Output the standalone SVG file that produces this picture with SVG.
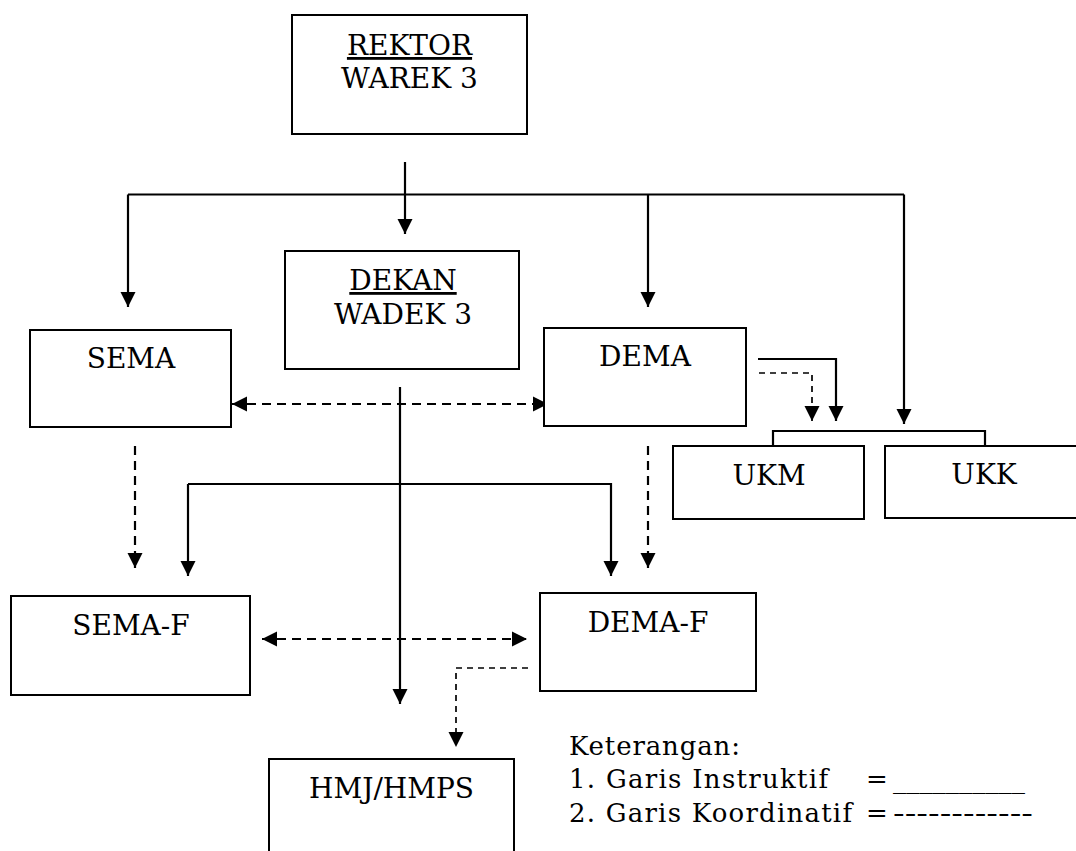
<svg xmlns="http://www.w3.org/2000/svg" width="1076" height="851" viewBox="0 0 1076 851">
  <style>
    .box { fill: #ffffff; stroke: #000000; stroke-width: 2; }
    .lbl { font-family: "DejaVu Serif", "Liberation Serif", serif; font-size: 28px; fill: #000000; text-anchor: middle; }
    .leg { font-family: "DejaVu Serif", "Liberation Serif", serif; font-size: 26px; fill: #000000; }
    .solid { fill: none; stroke: #000000; stroke-width: 2.2; }
    .dash { fill: none; stroke: #000000; stroke-width: 2.2; stroke-dasharray: 9 6; }
    .dash-thin { fill: none; stroke: #000000; stroke-width: 1.7; stroke-dasharray: 6 5; }
    .u { text-decoration: underline; }
  </style>
  <defs>
    <marker id="ah" markerUnits="userSpaceOnUse" markerWidth="16" markerHeight="16" viewBox="0 0 16 16" refX="15" refY="8" orient="auto">
      <path d="M0,0.5 L15,8 L0,15.5 z" fill="#000000"/>
    </marker>
    <marker id="ahs" markerUnits="userSpaceOnUse" markerWidth="16" markerHeight="16" viewBox="0 0 16 16" refX="15" refY="8" orient="auto-start-reverse">
      <path d="M0,0.5 L15,8 L0,15.5 z" fill="#000000"/>
    </marker>
  </defs>
  <rect width="1076" height="851" fill="#ffffff"/>

  <g id="connectors">
    <!-- instructive (solid) -->
    <path class="solid" d="M405,162 V234" marker-end="url(#ah)"/>
    <path class="solid" d="M128,194.5 H904"/>
    <path class="solid" d="M128,194.5 V307" marker-end="url(#ah)"/>
    <path class="solid" d="M648,194.5 V307" marker-end="url(#ah)"/>
    <path class="solid" d="M904,194.5 V424" marker-end="url(#ah)"/>
    <path class="solid" d="M758,359 H836 V421" marker-end="url(#ah)"/>
    <path class="solid" d="M773,446 V431 H985 V446"/>
    <path class="solid" d="M400,387 V704" marker-end="url(#ah)"/>
    <path class="solid" d="M188,484 V576" marker-end="url(#ah)"/>
    <path class="solid" d="M188,484 H611 V576" marker-end="url(#ah)"/>
    <!-- coordinative (dashed) -->
    <path class="dash" d="M232,404 H548" marker-start="url(#ahs)" marker-end="url(#ah)"/>
    <path class="dash" d="M135,446 V568" marker-end="url(#ah)"/>
    <path class="dash" d="M648,446 V568" marker-end="url(#ah)"/>
    <path class="dash" d="M262,639 H527" marker-start="url(#ahs)" marker-end="url(#ah)"/>
    <path class="dash-thin" d="M759,373 H812 V421" marker-end="url(#ah)"/>
    <path class="dash-thin" d="M528,668 H456 V747" marker-end="url(#ah)"/>
  </g>

  <g id="rektor">
    <rect class="box" x="292" y="15" width="235" height="119"/>
    <text class="lbl u" x="409.5" y="55">REKTOR</text>
    <text class="lbl" x="409.5" y="88">WAREK 3</text>
  </g>
  <g id="dekan">
    <rect class="box" x="285" y="251" width="234" height="118"/>
    <text class="lbl u" x="403" y="290">DEKAN</text>
    <text class="lbl" x="403" y="324">WADEK 3</text>
  </g>
  <g id="sema">
    <rect class="box" x="30" y="330" width="201" height="97"/>
    <text class="lbl" x="131" y="368">SEMA</text>
  </g>
  <g id="dema">
    <rect class="box" x="544" y="328" width="202" height="98"/>
    <text class="lbl" x="645" y="366">DEMA</text>
  </g>
  <g id="ukm">
    <rect class="box" x="673" y="446" width="191" height="73"/>
    <text class="lbl" x="769" y="485">UKM</text>
  </g>
  <g id="ukk">
    <rect class="box" x="885" y="446" width="200" height="72"/>
    <text class="lbl" x="984" y="484">UKK</text>
  </g>
  <g id="sema-f">
    <rect class="box" x="11" y="596" width="239" height="99"/>
    <text class="lbl" x="131" y="635">SEMA-F</text>
  </g>
  <g id="dema-f">
    <rect class="box" x="540" y="593" width="216" height="98"/>
    <text class="lbl" x="648" y="632">DEMA-F</text>
  </g>
  <g id="hmj">
    <rect class="box" x="269" y="759" width="245" height="120"/>
    <text class="lbl" x="391.5" y="798">HMJ/HMPS</text>
  </g>

  <g id="legend">
    <text class="leg" x="569" y="755" textLength="171" lengthAdjust="spacing">Keterangan:</text>
    <text class="leg" x="569" y="788" textLength="259" lengthAdjust="spacing">1. Garis Instruktif</text>
    <text class="leg" x="866" y="788">=</text>
    <text class="leg" x="893" y="788" textLength="132" lengthAdjust="spacingAndGlyphs">__________</text>
    <text class="leg" x="569" y="822" textLength="283" lengthAdjust="spacing">2. Garis Koordinatif</text>
    <text class="leg" x="866" y="822">=</text>
    <text class="leg" x="893" y="822" textLength="140" lengthAdjust="spacingAndGlyphs">------------</text>
  </g>
</svg>
